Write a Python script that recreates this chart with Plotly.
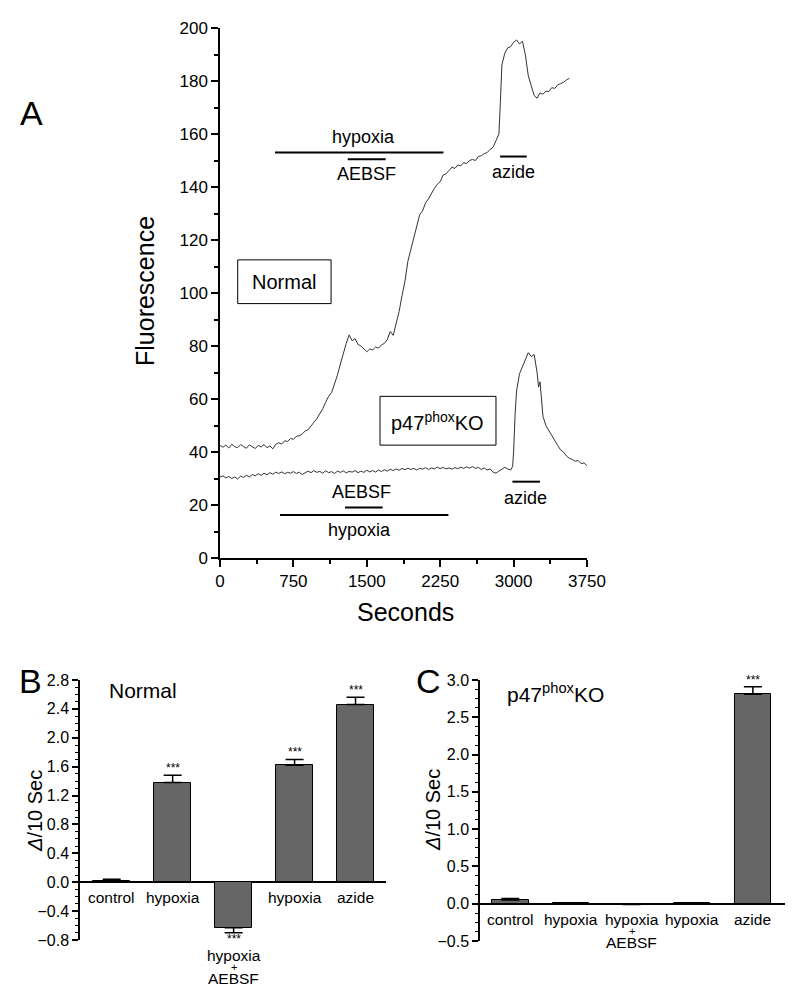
import plotly.graph_objects as go

# ---------------- Panel A data ----------------
normal_t = [0, 30, 60, 90, 120, 150, 180, 210, 240, 270, 300, 330, 360, 390, 420, 450, 480, 510, 540, 570,
            600, 630, 660, 690, 720, 750, 780, 810, 840, 870, 900, 930, 960, 990, 1020, 1050, 1080, 1110, 1140, 1170,
            1200, 1230, 1260, 1290, 1320, 1350, 1380, 1410, 1440, 1470, 1500, 1530, 1560, 1590, 1620, 1650, 1680, 1710,
            1740, 1770, 1800, 1830, 1860, 1890, 1920, 1950, 1980, 2010, 2040, 2070, 2100, 2130, 2160, 2190, 2220, 2250,
            2280, 2310, 2340, 2370, 2400, 2430, 2460, 2490, 2520, 2550, 2580, 2610, 2640, 2670, 2700, 2730, 2760, 2790,
            2820, 2850, 2865, 2880, 2910, 2940, 2970, 3000, 3030, 3060, 3090, 3120, 3150, 3180, 3210, 3240, 3270, 3300,
            3330, 3360, 3390, 3420, 3450, 3480, 3510, 3540, 3570]
normal_f = [42.5, 41.8, 42.6, 41.5, 42.9, 42.0, 41.6, 42.8, 42.1, 41.4, 42.7, 42.0, 41.3, 42.5, 41.9, 42.8, 41.6, 42.3, 41.2, 42.9,
            43.5, 43.0, 44.2, 44.0, 45.1, 44.8, 45.9, 46.1, 46.8, 47.9, 48.4, 49.8, 51.0, 52.6, 54.5, 56.3, 58.8, 61.0, 62.4, 65.5,
            69.0, 73.2, 77.5, 81.0, 84.2, 82.0, 82.8, 80.6, 80.0, 79.0, 77.8, 78.9, 78.5, 79.6, 79.2, 80.4, 81.0, 82.5,
            85.5, 84.0, 88.5, 93.0, 99.0, 104.5, 112.0, 116.5, 121.5, 126.0, 129.5, 131.0, 134.0, 135.5, 137.8, 139.5, 141.0, 142.0,
            144.5, 145.0, 146.2, 147.5, 147.0, 148.3, 148.0, 149.2, 148.8, 150.0, 150.4, 150.0, 151.5, 151.8, 152.6, 153.0, 154.2, 155.0,
            157.5, 160.0, 172.0, 186.0, 190.5, 192.5, 193.0, 194.6, 195.5, 194.0, 195.0, 190.0, 182.0, 178.0, 174.5, 173.5, 175.5, 175.0,
            176.2, 176.0, 177.5, 177.2, 178.5, 179.0, 179.5, 180.4, 181.0]

ko_t = [0, 30, 60, 90, 120, 150, 180, 210, 240, 270, 300, 330, 360, 390, 420, 450, 480, 510, 540, 570,
        600, 630, 660, 690, 720, 750, 780, 810, 840, 870, 900, 930, 960, 990, 1020, 1050, 1080, 1110, 1140, 1170,
        1200, 1230, 1260, 1290, 1320, 1350, 1380, 1410, 1440, 1470, 1500, 1530, 1560, 1590, 1620, 1650, 1680, 1710,
        1740, 1770, 1800, 1830, 1860, 1890, 1920, 1950, 1980, 2010, 2040, 2070, 2100, 2130, 2160, 2190, 2220, 2250,
        2280, 2310, 2340, 2370, 2400, 2430, 2460, 2490, 2520, 2550, 2580, 2610, 2640, 2670, 2700, 2730, 2760, 2790,
        2820, 2850, 2880, 2910, 2940, 2970, 2990, 3000, 3015, 3030, 3060, 3090, 3120, 3150, 3180, 3210, 3240, 3255,
        3270, 3285, 3300, 3330, 3360, 3390, 3420, 3450, 3480, 3510, 3540, 3570, 3600, 3630, 3660, 3690, 3720, 3750]
ko_f = [30.5, 31.0, 30.2, 30.8, 30.0, 30.6, 29.8, 30.9, 30.4, 31.2, 30.6, 31.5, 31.0, 31.8, 31.2, 32.0, 31.4, 32.2, 31.6, 32.4,
        31.9, 32.5, 31.8, 32.3, 32.0, 32.6, 31.9, 32.4, 31.5, 32.0, 32.8, 32.2, 33.0, 32.3, 32.7, 32.0, 32.9, 32.2, 32.6, 31.9,
        32.8, 32.3, 32.9, 32.1, 32.7, 32.4, 33.0, 32.2, 32.8, 32.3, 33.1, 32.5, 33.0, 32.4, 33.2, 32.6, 33.3, 32.8,
        33.5, 33.0, 33.6, 33.1, 33.8, 33.3, 33.9, 33.4, 33.8, 33.2, 33.9, 33.5, 34.1, 33.4, 34.0, 33.6, 34.3, 33.7,
        34.2, 33.6, 34.0, 33.5, 34.1, 33.7, 34.3, 33.8, 34.4, 33.9, 34.5, 33.8, 34.2, 33.4, 34.0, 33.2, 33.6, 32.4,
        32.0, 32.8, 33.5, 34.2, 33.6, 33.2, 34.5, 40.0, 54.0, 63.0, 69.5, 72.0, 74.5, 77.5, 76.0, 76.8, 70.0, 64.5,
        66.5, 58.0, 53.5, 50.0, 48.0, 46.2, 44.0, 42.5, 40.8, 40.0, 38.5, 37.6, 37.2, 36.5, 36.8, 35.6, 35.9, 34.8]

x_ticks_a = [0, 750, 1500, 2250, 3000, 3750]
y_ticks_a = [0, 20, 40, 60, 80, 100, 120, 140, 160, 180, 200]

# ---------------- Panel B / C data ----------------
categories = ["control", "hypoxia", "hypoxia + AEBSF", "hypoxia", "azide"]
normal_vals = [0.02, 1.38, -0.63, 1.62, 2.46]
normal_err = [0.02, 0.10, 0.07, 0.08, 0.10]
normal_sig = ["", "***", "***", "***", "***"]

ko_vals = [0.05, 0.005, -0.01, 0.003, 2.81]
ko_err = [0.02, 0.0, 0.0, 0.0, 0.10]
ko_sig = ["", "", "", "", "***"]

FONT = "Liberation Sans, Arial, Helvetica, sans-serif"
BLACK = "#000000"
TRACE = "#333333"
BAR = "#666666"

# The page body has an 8px default margin; convert screen pixels to paper fractions.
OFF = 8
W, H = 800, 990


def px(x):
    return (x - OFF) / W


def py(y):
    return (H - (y - OFF)) / H


fig = go.Figure()

# Panel A traces
fig.add_trace(go.Scatter(x=normal_t, y=normal_f, mode="lines", line=dict(color=TRACE, width=1),
                         xaxis="x", yaxis="y", showlegend=False, hoverinfo="skip"))
fig.add_trace(go.Scatter(x=ko_t, y=ko_f, mode="lines", line=dict(color=TRACE, width=1),
                         xaxis="x", yaxis="y", showlegend=False, hoverinfo="skip"))

idx = list(range(len(categories)))

# Panel B bars
pos_err_b = [e if v >= 0 else 0 for v, e in zip(normal_vals, normal_err)]
neg_err_b = [e if v < 0 else 0 for v, e in zip(normal_vals, normal_err)]
fig.add_trace(go.Bar(x=idx, y=normal_vals, width=0.6, marker=dict(color=BAR, line=dict(color=BLACK, width=1)),
                     error_y=dict(type="data", symmetric=False, array=pos_err_b, arrayminus=neg_err_b,
                                  color=BLACK, thickness=1.5, width=9),
                     xaxis="x2", yaxis="y2", showlegend=False, hoverinfo="skip"))

# Panel C bars
pos_err_c = [e if v >= 0 else 0 for v, e in zip(ko_vals, ko_err)]
neg_err_c = [e if v < 0 else 0 for v, e in zip(ko_vals, ko_err)]
fig.add_trace(go.Bar(x=idx, y=ko_vals, width=0.6, marker=dict(color=BAR, line=dict(color=BLACK, width=1)),
                     error_y=dict(type="data", symmetric=False, array=pos_err_c, arrayminus=neg_err_c,
                                  color=BLACK, thickness=1.5, width=9),
                     xaxis="x3", yaxis="y3", showlegend=False, hoverinfo="skip"))

tickfont_a = dict(family=FONT, size=17, color=BLACK)
tickfont_b = dict(family=FONT, size=16, color=BLACK)

fig.update_layout(
    width=W, height=H, margin=dict(l=0, r=0, t=0, b=0, autoexpand=False),
    paper_bgcolor="white", plot_bgcolor="white",
    font=dict(family=FONT, color=BLACK),
    bargap=0,
    xaxis=dict(domain=[px(220), px(587)], anchor="y", range=[0, 3750], tickvals=x_ticks_a, automargin=False,
               showline=True, linecolor=BLACK, linewidth=1.5, ticks="outside", ticklen=7, tickwidth=1.5,
               tickcolor=BLACK, showgrid=False, zeroline=False, tickfont=tickfont_a,
               minor=dict(tick0=375, dtick=750, ticks="outside", ticklen=4, tickwidth=1.5, tickcolor=BLACK)),
    yaxis=dict(domain=[py(558), py(28)], anchor="x", range=[0, 200], tickvals=y_ticks_a,
               automargin=False,
               showline=True, linecolor=BLACK, linewidth=1.5, ticks="outside", ticklen=7, tickwidth=1.5,
               tickcolor=BLACK, showgrid=False, zeroline=False, tickfont=tickfont_a,
               minor=dict(tick0=10, dtick=20, ticks="outside", ticklen=4, tickwidth=1.5, tickcolor=BLACK)),
    xaxis2=dict(domain=[px(80), px(386)], anchor="y2", range=[-0.52, 4.5], visible=False, automargin=False),
    yaxis2=dict(domain=[py(940), py(680)], anchor="x2", range=[-0.8, 2.8], automargin=False,
                tickvals=[-0.8, -0.4, 0.0, 0.4, 0.8, 1.2, 1.6, 2.0, 2.4, 2.8], tickformat=".1f",
                showline=True, linecolor=BLACK, linewidth=1.5, ticks="outside", ticklen=6, tickwidth=1.5,
                tickcolor=BLACK, showgrid=False, zeroline=True, zerolinecolor=BLACK, zerolinewidth=1.5,
                tickfont=tickfont_b,
                minor=dict(dtick=0.1, tick0=0, ticks="outside", ticklen=3, tickwidth=1, tickcolor=BLACK)),
    xaxis3=dict(domain=[px(480), px(785)], anchor="y3", range=[-0.5, 4.53], visible=False, automargin=False),
    yaxis3=dict(domain=[py(941), py(680)], anchor="x3", range=[-0.5, 3.0], automargin=False,
                tickvals=[-0.5, 0.0, 0.5, 1.0, 1.5, 2.0, 2.5, 3.0], tickformat=".1f",
                showline=True, linecolor=BLACK, linewidth=1.5, ticks="outside", ticklen=6, tickwidth=1.5,
                tickcolor=BLACK, showgrid=False, zeroline=True, zerolinecolor=BLACK, zerolinewidth=1.5,
                tickfont=tickfont_b,
                minor=dict(dtick=0.125, tick0=0, ticks="outside", ticklen=3, tickwidth=1, tickcolor=BLACK)),
)

ann = []
shapes = []


def text(x, y, s, size, xref="paper", yref="paper", **kw):
    d = dict(x=x, y=y, xref=xref, yref=yref, text=s, showarrow=False,
             xanchor="center", yanchor="middle",
             font=dict(family=FONT, size=size, color=BLACK))
    d.update(kw)
    ann.append(d)


# panel letters
text(px(31), py(113), "A", 34)
text(px(30), py(681), "B", 34)
text(px(428), py(681), "C", 34)

# Panel A axis titles
text(px(145), py(291), "Fluorescence", 25, textangle=-90)
text(px(405), py(612), "Seconds", 25)


# Panel A treatment bars and labels (data coords)
def hline(x0, x1, y, w=2):
    shapes.append(dict(type="line", xref="x", yref="y", x0=x0, x1=x1, y0=y, y1=y,
                       line=dict(color=BLACK, width=w)))


hline(562, 2283, 153)
text(1463, 159, "hypoxia", 18, xref="x", yref="y")
hline(1305, 1693, 150.5)
text(1500, 145, "AEBSF", 18, xref="x", yref="y")
hline(2862, 3134, 151.5)
text(2998, 145.6, "azide", 18, xref="x", yref="y")

text(1448, 24.8, "AEBSF", 18, xref="x", yref="y")
hline(1277, 1662, 19.1)
hline(613, 2334, 16.2)
text(1430, 10.6, "hypoxia", 18, xref="x", yref="y")
hline(2988, 3270, 28.8)
text(3124, 22.5, "azide", 18, xref="x", yref="y")

# boxes
shapes.append(dict(type="rect", xref="x", yref="y", x0=181, x1=1135, y0=96, y1=112.5,
                   line=dict(color=BLACK, width=1)))
text(658, 104.2, "Normal", 20, xref="x", yref="y")
shapes.append(dict(type="rect", xref="x", yref="y", x0=1635, x1=2820, y0=42.6, y1=61,
                   line=dict(color=BLACK, width=1)))
text(2227, 51.5, "p47<sup>phox</sup>KO", 20, xref="x", yref="y")


def cat_label(i, cat, xref, center):
    # center: screen pixel row of the first text line's centre
    parts = cat.split(" + ")
    if len(parts) == 1:
        text(i, py(center), cat, 15.5, xref=xref)
    else:
        text(i, py(center), parts[0], 15.5, xref=xref)
        text(i, py(center + 12), "+", 11, xref=xref)
        text(i, py(center + 23), parts[1], 15.5, xref=xref)


# Panel B annotations
text(px(35), py(811), "<i>Δ</i>/10 Sec", 20, textangle=-90)
text(px(107), py(690), "Normal", 21, xanchor="left")
for i, (cat, v, e, s) in enumerate(zip(categories, normal_vals, normal_err, normal_sig)):
    if v >= 0:
        cat_label(i, cat, "x2", 897)
        if s:
            text(i, v + e, s, 12, xref="x2", yref="y2", yanchor="bottom", yshift=-2)
    else:
        text(i, v - e, s, 12, xref="x2", yref="y2", yanchor="top", yshift=3)
        cat_label(i, cat, "x2", 955)

# Panel C annotations
text(px(433), py(810), "<i>Δ</i>/10 Sec", 20, textangle=-90)
text(px(505), py(693), "p47<sup>phox</sup>KO", 21, xanchor="left")
for i, (cat, v, e, s) in enumerate(zip(categories, ko_vals, ko_err, ko_sig)):
    cat_label(i, cat, "x3", 919)
    if s:
        text(i, v + e, s, 12, xref="x3", yref="y3", yanchor="bottom", yshift=-2)

fig.update_layout(annotations=ann, shapes=shapes)

fig.write_html("out.html")
